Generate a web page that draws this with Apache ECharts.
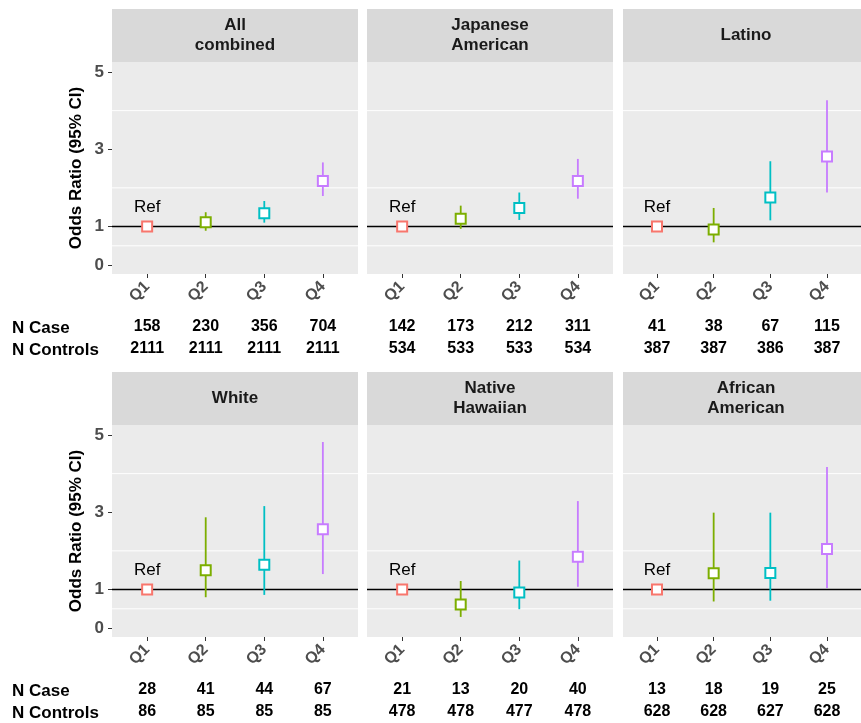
<!DOCTYPE html>
<html>
<head>
<meta charset="utf-8">
<script src="https://cdn.jsdelivr.net/npm/echarts@6/dist/echarts.min.js"></script>
<style>html,body{margin:0;padding:0;background:#fff}#c{width:861px;height:723px}</style>
</head>
<body>
<div id="c"></div>
<script>
// ---------- data ----------
const quartiles = ['Q1', 'Q2', 'Q3', 'Q4'];
const panelTitles = ['All\ncombined', 'Japanese\nAmerican', 'Latino', 'White', 'Native\nHawaiian', 'African\nAmerican'];
const yTicks = [0, 1, 3, 5];
const yMinor = [0.5, 2, 4];
const refValue = 1;

const orAll = [1, 1.11, 1.34, 2.18];
const loAll = [null, 0.89, 1.10, 1.79];
const hiAll = [null, 1.37, 1.66, 2.66];
const nCaseAll = [158, 230, 356, 704];
const nCtrlAll = [2111, 2111, 2111, 2111];

const orJapanese = [1, 1.20, 1.48, 2.18];
const loJapanese = [null, 0.94, 1.17, 1.72];
const hiJapanese = [null, 1.54, 1.88, 2.75];
const nCaseJapanese = [142, 173, 212, 311];
const nCtrlJapanese = [534, 533, 533, 534];

const orLatino = [1, 0.92, 1.75, 2.81];
const loLatino = [null, 0.59, 1.16, 1.88];
const hiLatino = [null, 1.48, 2.69, 4.27];
const nCaseLatino = [41, 38, 67, 115];
const nCtrlLatino = [387, 387, 386, 387];

const orWhite = [1, 1.50, 1.64, 2.56];
const loWhite = [null, 0.80, 0.86, 1.40];
const hiWhite = [null, 2.87, 3.16, 4.82];
const nCaseWhite = [28, 41, 44, 67];
const nCtrlWhite = [86, 85, 85, 85];

const orHawaiian = [1, 0.61, 0.92, 1.85];
const loHawaiian = [null, 0.29, 0.49, 1.07];
const hiHawaiian = [null, 1.22, 1.75, 3.29];
const nCaseHawaiian = [21, 13, 20, 40];
const nCtrlHawaiian = [478, 478, 477, 478];

const orAfrican = [1, 1.42, 1.43, 2.05];
const loAfrican = [null, 0.69, 0.71, 1.04];
const hiAfrican = [null, 2.99, 2.99, 4.17];
const nCaseAfrican = [13, 18, 19, 25];
const nCtrlAfrican = [628, 628, 627, 628];

const panels = [
  {or: orAll, lo: loAll, hi: hiAll, nCase: nCaseAll, nCtrl: nCtrlAll},
  {or: orJapanese, lo: loJapanese, hi: hiJapanese, nCase: nCaseJapanese, nCtrl: nCtrlJapanese},
  {or: orLatino, lo: loLatino, hi: hiLatino, nCase: nCaseLatino, nCtrl: nCtrlLatino},
  {or: orWhite, lo: loWhite, hi: hiWhite, nCase: nCaseWhite, nCtrl: nCtrlWhite},
  {or: orHawaiian, lo: loHawaiian, hi: hiHawaiian, nCase: nCaseHawaiian, nCtrl: nCtrlHawaiian},
  {or: orAfrican, lo: loAfrican, hi: hiAfrican, nCase: nCaseAfrican, nCtrl: nCtrlAfrican}
];

// ---------- styles / layout ----------
const colors = ['#F8766D', '#7CAE00', '#00BFC4', '#C77CFF'];
const FONT = "'Liberation Sans', Arial, Helvetica, sans-serif";
const lefts = [112, 367, 623];
const tops = [62, 425];
const W = 246, H = 212, STRIP = 53;
const XMIN = -0.6, XMAX = 3.6, YMIN = -0.23, YMAX = 5.26;
const idx = [0, 1, 2, 3];

const grids = [], xAxes = [], yAxes = [], series = [], graphics = [];

panels.forEach((p, i) => {
  const col = i % 3, row = Math.floor(i / 3);
  const left = lefts[col], top = tops[row];
  grids.push({left: left, top: top, width: W, height: H, show: true, backgroundColor: '#EBEBEB', borderWidth: 0});

  // strip
  graphics.push({type: 'rect', left: left, top: top - STRIP, shape: {width: W, height: STRIP}, style: {fill: '#D9D9D9'}, z: 0});
  graphics.push({type: 'text', x: left + W / 2, y: top - STRIP / 2,
    style: {text: panelTitles[i], align: 'center', verticalAlign: 'middle', font: 'bold 17px ' + FONT, fill: '#1A1A1A', lineHeight: 20}, z: 1});

  // x axes: quartile labels, N case, N controls
  xAxes.push({gridIndex: i, type: 'value', min: XMIN, max: XMAX,
    axisLine: {show: false, onZero: false}, splitLine: {show: false},
    axisTick: {show: true, customValues: idx, length: 4, lineStyle: {color: '#333', width: 1}},
    axisLabel: {customValues: idx, formatter: v => quartiles[Math.round(v)], rotate: 45,
      fontFamily: FONT, fontWeight: 'bold', fontSize: 16, color: '#4D4D4D', margin: 10}});
  xAxes.push({gridIndex: i, type: 'value', min: XMIN, max: XMAX, position: 'bottom', offset: 37,
    axisLine: {show: false, onZero: false}, splitLine: {show: false}, axisTick: {show: false},
    axisLabel: {customValues: idx, formatter: v => String(p.nCase[Math.round(v)]),
      fontFamily: FONT, fontWeight: 'bold', fontSize: 16, color: '#000', margin: 8}});
  xAxes.push({gridIndex: i, type: 'value', min: XMIN, max: XMAX, position: 'bottom', offset: 59,
    axisLine: {show: false, onZero: false}, splitLine: {show: false}, axisTick: {show: false},
    axisLabel: {customValues: idx, formatter: v => String(p.nCtrl[Math.round(v)]),
      fontFamily: FONT, fontWeight: 'bold', fontSize: 16, color: '#000', margin: 8}});

  const showY = col === 0;
  yAxes.push({gridIndex: i, type: 'value', min: YMIN, max: YMAX,
    axisLine: {show: false, onZero: false}, splitLine: {show: false},
    name: showY ? 'Odds Ratio (95% CI)' : '', nameLocation: 'middle', nameGap: 27,
    nameTextStyle: {fontFamily: FONT, fontWeight: 'bold', fontSize: 17, color: '#000'},
    axisTick: {show: showY, customValues: yTicks, length: 4, lineStyle: {color: '#333'}},
    axisLabel: {show: showY, customValues: yTicks, fontFamily: FONT, fontWeight: 'bold', fontSize: 17, color: '#4D4D4D', margin: 8}});

  const xi = i * 3;
  // minor grid lines
  series.push({type: 'custom', xAxisIndex: xi, yAxisIndex: i, silent: true, z: 1,
    data: yMinor.map(v => [0, v]),
    renderItem: (params, api) => {
      const cs = params.coordSys;
      const y = api.coord([0, api.value(1)])[1];
      return {type: 'line', shape: {x1: cs.x, y1: y, x2: cs.x + cs.width, y2: y}, style: {stroke: '#FFFFFF', lineWidth: 1}};
    }});
  // reference line
  series.push({type: 'custom', xAxisIndex: xi, yAxisIndex: i, silent: true, z: 2,
    data: [[0, refValue]],
    renderItem: (params, api) => {
      const cs = params.coordSys;
      const y = api.coord([0, api.value(1)])[1];
      return {type: 'line', shape: {x1: cs.x, y1: y, x2: cs.x + cs.width, y2: y}, style: {stroke: '#000000', lineWidth: 1.6}};
    }});
  // error bars
  series.push({type: 'custom', xAxisIndex: xi, yAxisIndex: i, silent: true, z: 3,
    data: idx.filter(k => p.lo[k] != null).map(k => [k, p.lo[k], p.hi[k]]),
    renderItem: (params, api) => {
      const k = api.value(0);
      const a = api.coord([k, api.value(1)]);
      const b = api.coord([k, api.value(2)]);
      return {type: 'line', shape: {x1: a[0], y1: a[1], x2: b[0], y2: b[1]}, style: {stroke: colors[k], lineWidth: 1.8}};
    }});
  // points
  series.push({type: 'scatter', xAxisIndex: xi, yAxisIndex: i, silent: true, z: 4,
    symbol: 'rect', symbolSize: 10,
    data: idx.map(k => ({value: [k, p.or[k]],
      itemStyle: {color: '#FFFFFF', borderColor: colors[k], borderWidth: 2, opacity: 1},
      label: k === 0 ? {show: true, formatter: 'Ref', position: 'top', distance: 5,
        fontFamily: FONT, fontSize: 17, color: '#000'} : {show: false}}))});
});

// N Case / N Controls row headers
tops.forEach(t => {
  graphics.push({type: 'text', x: 12, y: t + H + 54, style: {text: 'N Case', font: 'bold 17px ' + FONT, fill: '#000', verticalAlign: 'middle'}});
  graphics.push({type: 'text', x: 12, y: t + H + 76, style: {text: 'N Controls', font: 'bold 17px ' + FONT, fill: '#000', verticalAlign: 'middle'}});
});

const chart = echarts.init(document.getElementById('c'), null, {renderer: 'canvas'});
chart.setOption({
  animation: false,
  backgroundColor: '#FFFFFF',
  grid: grids, xAxis: xAxes, yAxis: yAxes, series: series, graphic: graphics
});
</script>
</body>
</html>
